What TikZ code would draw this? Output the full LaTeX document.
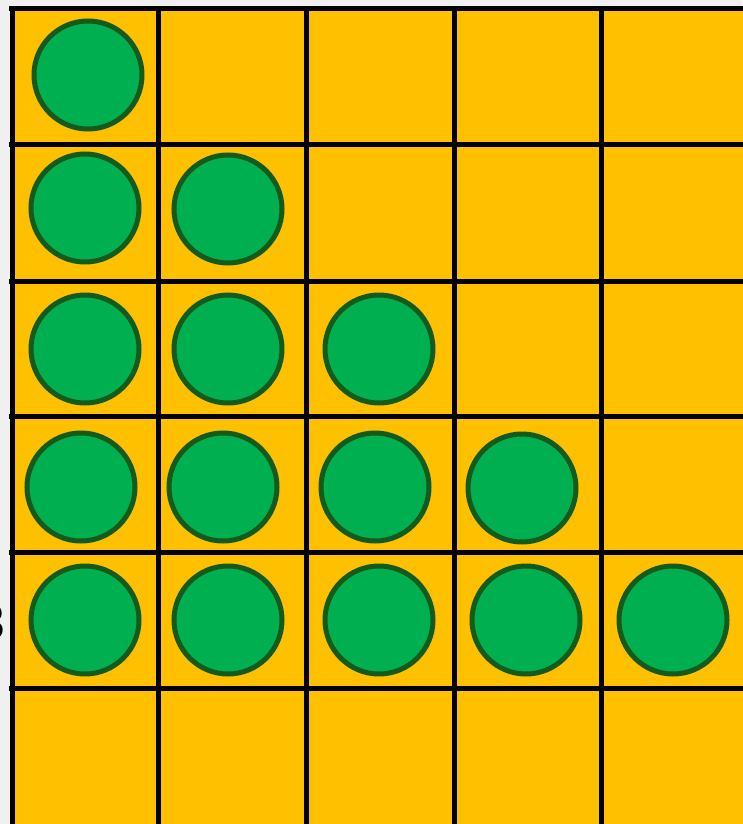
\documentclass[tikz,border=0pt]{standalone}
\usepackage{fontspec}
\setmainfont{Liberation Sans}
\begin{document}
\begin{tikzpicture}[x=1pt,y=-1pt,
  gridline/.style={line width=5pt,black},
  disc/.style={circle,draw=discedge,fill=discfill,line width=5pt,minimum size=108pt,inner sep=0pt}]
\definecolor{bg}{HTML}{F0F0F0}
\definecolor{cellfill}{HTML}{FFC000}
\definecolor{discfill}{HTML}{00B050}
\definecolor{discedge}{HTML}{145A1A}
\useasboundingbox (0,0) rectangle (742,824);
\fill[bg] (0,0) rectangle (742,824);
\node[anchor=east,inner sep=0pt,font=\fontsize{50}{50}\selectfont,text=black] (lbl) at (6,622) {3};
\fill[cellfill] (11,9) rectangle (745,830);
% grid lines
\foreach \yy in {9,144,281,416,552,688} \draw[gridline] (9,\yy) -- (745,\yy);
\foreach \xx in {12,158,306,454,601} \draw[gridline] (\xx,7) -- (\xx,830);
% discs
\node[disc] (c11) at (88,75) {};
\node[disc] (c21) at (85,208) {};
\node[disc] (c22) at (228,209) {};
\node[disc] (c31) at (85,349) {};
\node[disc] (c32) at (228,349) {};
\node[disc] (c33) at (379,349) {};
\node[disc] (c41) at (81,487) {};
\node[disc] (c42) at (223,487) {};
\node[disc] (c43) at (375,487) {};
\node[disc] (c44) at (522,488) {};
\node[disc] (c51) at (85,620) {};
\node[disc] (c52) at (228,620) {};
\node[disc] (c53) at (379,620) {};
\node[disc] (c54) at (526,620) {};
\node[disc] (c55) at (673,620) {};
\end{tikzpicture}
\end{document}
